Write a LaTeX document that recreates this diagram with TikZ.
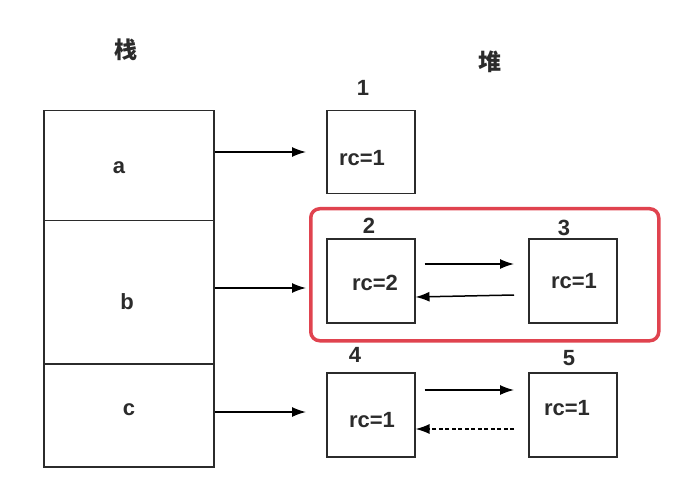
\documentclass[tikz,border=0pt]{standalone}
\usepackage{fontspec}
\setmainfont{Liberation Sans}
\newfontfamily\cjk{Noto Sans CJK SC}
\usetikzlibrary{arrows.meta,calc}
\definecolor{redbox}{HTML}{E0434F}
\definecolor{ink}{HTML}{2B2B2B}
\begin{document}
\begin{tikzpicture}[x=1pt,y=-1pt,
  cell/.style={draw=ink,line width=1.5pt,rectangle,inner sep=0pt,anchor=north west},
  heapbox/.style={draw=ink,line width=1.5pt,rectangle,inner sep=0pt,minimum width=88pt,minimum height=84pt,anchor=north west},
  lbl/.style={font=\fontsize{22}{24}\selectfont\bfseries,text=ink,inner sep=0pt},
  cjklbl/.style={font=\cjk\fontsize{23}{26}\selectfont\bfseries,text=ink,inner sep=0pt},
  arr/.style={draw=black,line width=1.5pt,-{Latex[length=14pt,width=10pt]}}]
\useasboundingbox (0,0) rectangle (695,478);
% titles
\node[cjklbl] (zhan) at (126,50) {栈};
\node[cjklbl] (dui) at (490,62) {堆};
% stack cells
\node[cell,minimum width=170pt,minimum height=110pt] (ca) at (43,110) {};
\node[cell,minimum width=170pt,minimum height=143pt] (cb) at (43,220) {};
\node[cell,minimum width=170pt,minimum height=103pt] (cc) at (43,363) {};
\node[lbl] (la) at (119,168) {a};
\node[lbl] (lb) at (127,302) {b};
\node[lbl] (lc) at (129,410) {c};
% red group
\node[draw=redbox,line width=3.5pt,rounded corners=9pt,minimum width=348pt,minimum height=132pt,anchor=north west,inner sep=0pt] (grp) at (309,207) {};
% heap boxes
\node[heapbox,minimum height=83pt] (b1) at (326,110) {};
\node[heapbox] (b2) at (326,238) {};
\node[heapbox] (b3) at (528,238) {};
\node[heapbox] (b4) at (326,372) {};
\node[heapbox] (b5) at (528,372) {};
% numbers
\node[lbl] (n1) at (363,88) {1};
\node[lbl] (n2) at (369,226) {2};
\node[lbl] (n3) at (564,228) {3};
\node[lbl] (n4) at (355,355) {4};
\node[lbl] (n5) at (569,358) {5};
% rc texts
\node[lbl] (r1) at (362,158) {rc=1};
\node[lbl] (r2) at (375,283) {rc=2};
\node[lbl] (r3) at (574,281) {rc=1};
\node[lbl] (r4) at (372,420) {rc=1};
\node[lbl] (r5) at (567,408) {rc=1};
% arrows from stack
\coordinate (ea) at (ca.east |- 0,152);
\coordinate (eb) at (cb.east |- 0,288);
\coordinate (ec) at (cc.east |- 0,412);
\draw[arr] (ea) -- ($(b1.west |- ea)+(-20,0)$);
\draw[arr] (eb) -- ($(grp.west |- eb)+(-3,0)$);
\draw[arr] (ec) -- ($(b4.west |- ec)+(-20,0)$);
% between heap objects
\draw[arr] ($(b2.east |- 0,264)+(9,0)$) -- ($(b3.west |- 0,264)+(-14,0)$);
\draw[arr] ($(b3.west |- 0,295)+(-14,0)$) -- (b2.east |- 0,297);
\draw[arr] ($(b4.east |- 0,390)+(9,0)$) -- ($(b5.west |- 0,390)+(-14,0)$);
\draw[arr,dashed,dash pattern=on 4pt off 2.5pt] ($(b5.west |- 0,429)+(-14,0)$) -- (b4.east |- 0,429);
\end{tikzpicture}
\end{document}
